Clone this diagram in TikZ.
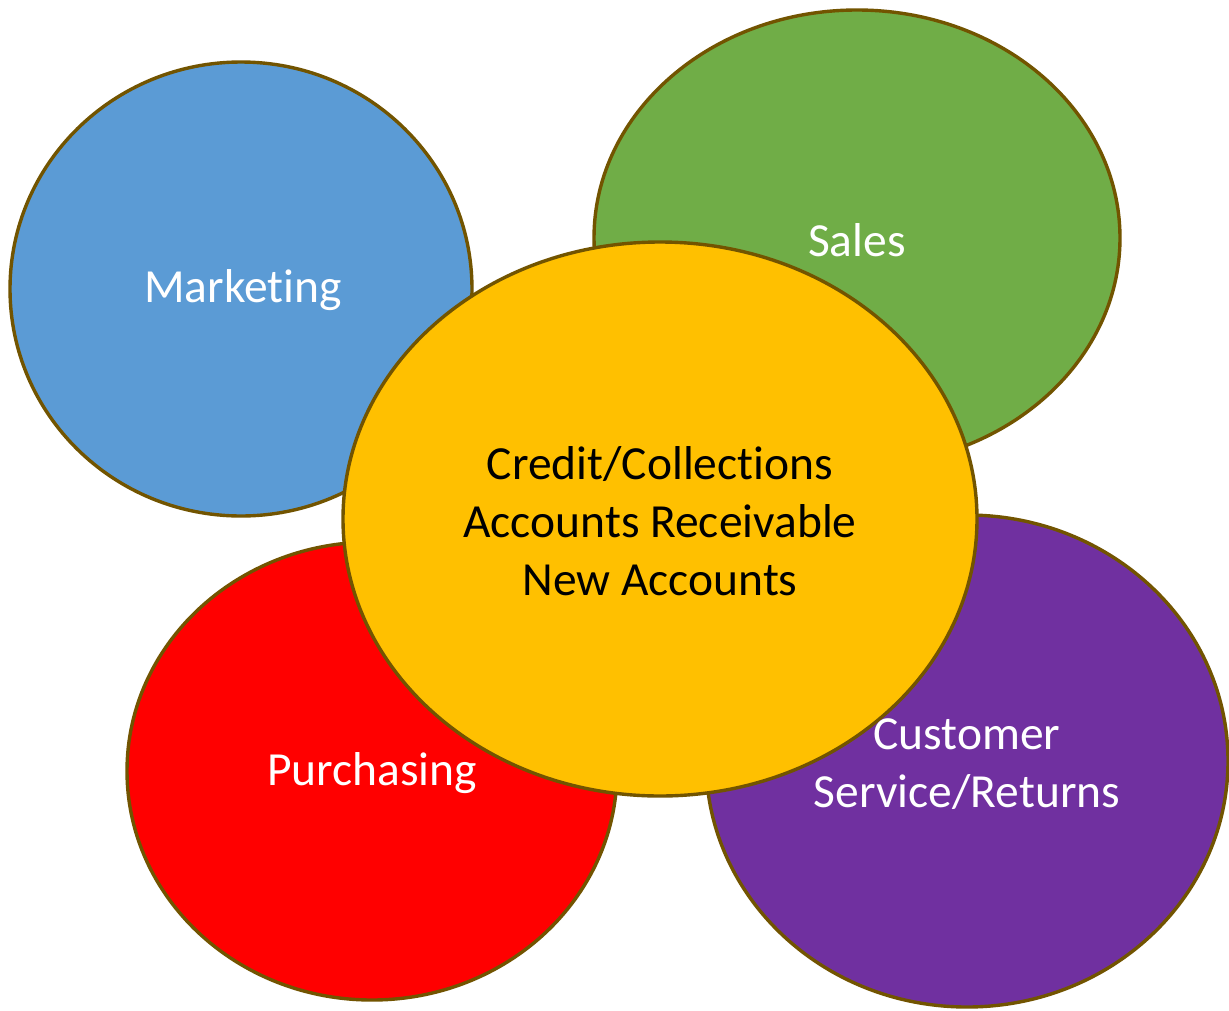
\documentclass[tikz,border=0pt]{standalone}
\usepackage{fontspec}
\setmainfont{Carlito}[Ligatures={NoCommon}]
\usetikzlibrary{shapes.geometric}
\definecolor{rim}{HTML}{725400}
\definecolor{cblue}{HTML}{5B9BD5}
\definecolor{cgreen}{HTML}{70AD47}
\definecolor{cred}{HTML}{FF0000}
\definecolor{cpurple}{HTML}{7030A0}
\definecolor{corange}{HTML}{FFC000}
\tikzset{
  area/.style={ellipse, draw=rim, line width=3.4pt, inner sep=0pt},
  label text/.style={font=\fontsize{47.5}{58}\selectfont, align=center},
}
\begin{document}
\begin{tikzpicture}[x=1pt,y=-1pt]
\useasboundingbox[fill=white] (0,0) rectangle (1229,1010);
% surrounding departments
\node[area, fill=cblue, minimum width=462, minimum height=454] (mkt) at (241,289) {};
\node[area, fill=cgreen, minimum width=526, minimum height=456] (sal) at (857,238) {};
\node[area, fill=cred, minimum width=490, minimum height=458] (pur) at (372,771) {};
\node[area, fill=cpurple, minimum width=522, minimum height=492] (cus) at (967,761) {};
% core function on top
\node[area, fill=corange, minimum width=634, minimum height=554] (core) at (660,519) {};
% labels
\node[label text, text=white] (tmkt) at (243,290) {Marketing};
\node[label text, text=white] (tsal) at (857,240) {Sales};
\node[label text, text=white] (tpur) at (372,773) {Purchasing};
\node[label text, text=white] (tcus) at (967,764) {Customer\\Service/Returns};
\node[label text, text=black] (tcore) at (660,521) {Credit/Collections\\Accounts Receivable\\New Accounts};
\end{tikzpicture}
\end{document}
